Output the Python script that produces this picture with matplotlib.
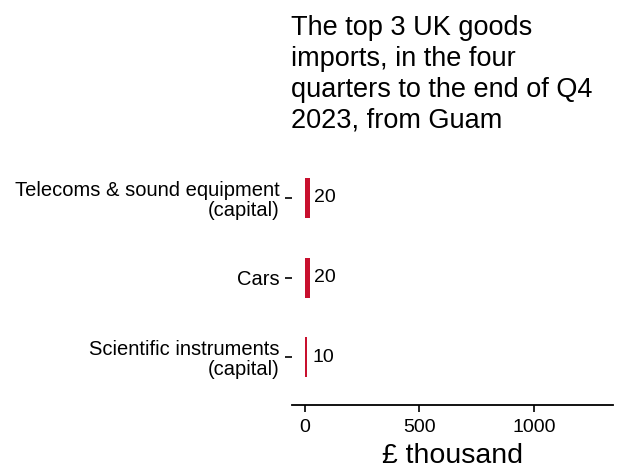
import matplotlib.pyplot as plt
import numpy as np

plt.rcParams['font.family'] = ['Liberation Sans', 'DejaVu Sans']

# data, top to bottom
categories = ["Telecoms & sound equipment\n(capital)", "Cars",
              "Scientific instruments\n(capital)"]
values = [20, 20, 10]
title = "The top 3 UK goods\nimports, in the four\nquarters to the end of Q4\n2023, from Guam"

fig = plt.figure(figsize=(6.21, 4.68), dpi=100)
ax = fig.add_axes([0.470, 0.1346, 0.517, 0.5444])

pos = np.arange(len(categories))[::-1]
ax.barh(pos, values, height=0.5, color="#C8102E")
for p, v in zip(pos, values):
    ax.annotate(str(v), (v, p), xytext=(3.5, 0), textcoords="offset points",
                va="center", ha="left", fontsize=14)

ax.set_ylim(-0.6, len(categories) - 0.4)
ax.set_xlim(-57, 1345)
ax.set_yticks(pos)
ax.set_yticklabels(categories, fontsize=14.5, linespacing=1.05)
ax.set_xticks([0, 500, 1000])
ax.tick_params(axis="x", labelsize=14, length=5, width=1.2, pad=5)
ax.tick_params(axis="y", length=5, width=1.2, pad=4)
ax.set_xlabel("£ thousand", fontsize=20.5, labelpad=5)

for s in ["top", "right", "left"]:
    ax.spines[s].set_visible(False)
ax.spines["bottom"].set_linewidth(1.3)

fig.text(0.468, 0.968, title, fontsize=19.5, va="top", ha="left", linespacing=1.25)

fig.savefig("out.png", dpi=100)
